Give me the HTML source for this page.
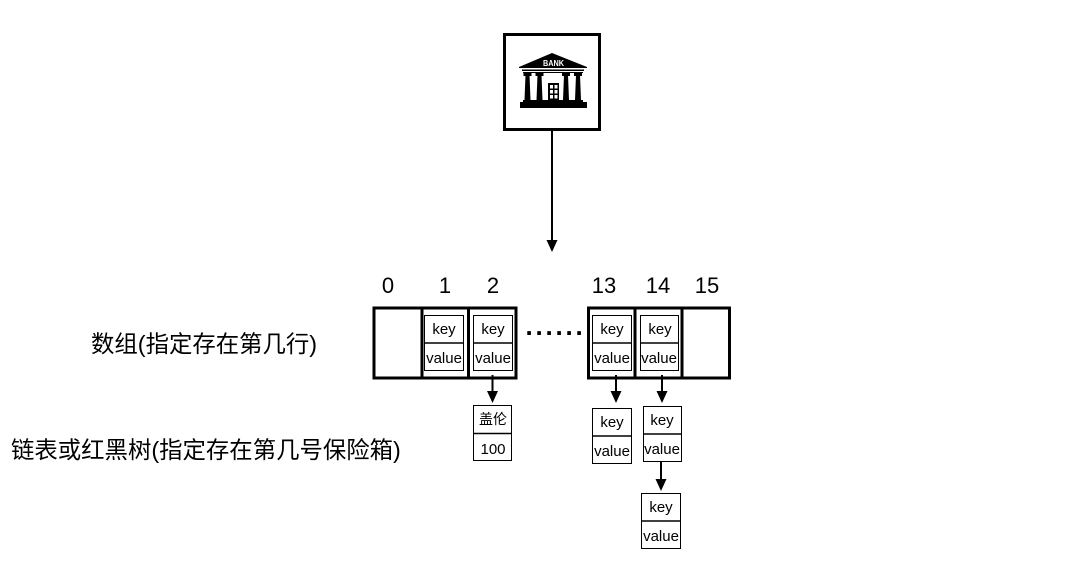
<!DOCTYPE html>
<html>
<head>
<meta charset="utf-8">
<style>
html,body{margin:0;padding:0;background:#fff;width:1074px;height:568px;overflow:hidden}
svg{display:block}
text{font-family:"Liberation Sans","Noto Sans CJK SC",sans-serif;fill:#000;text-anchor:middle}
.k{font-size:15px}
.n{font-size:22px}
.l{font-size:23.4px;text-anchor:start}
</style>
</head>
<body>
<svg width="1074" height="568" viewBox="0 0 1074 568" xmlns="http://www.w3.org/2000/svg">
<rect x="0" y="0" width="1074" height="568" fill="#fff"/>

<!-- bank box -->
<rect x="504.5" y="34.5" width="95" height="95" fill="#fff" stroke="#000" stroke-width="3"/>
<!-- bank icon -->
<g fill="#000">
<polygon points="552,53 587,67 587,68 519,68 519,67"/>
<rect x="522" y="69.500" width="62" height="1.500"/>
<rect x="523" y="72" width="60" height="1"/>
<rect x="523.500" y="73" width="8" height="3"/>
<rect x="535.500" y="73" width="8" height="3"/>
<rect x="562" y="73" width="8" height="3"/>
<rect x="574" y="73" width="8" height="3"/>
<polygon points="525.500,75 529.500,75 530.500,100 524.500,100"/>
<polygon points="537.500,75 541.500,75 542.500,100 536.500,100"/>
<polygon points="564,75 568,75 569,100 563,100"/>
<polygon points="576,75 580,75 581,100 575,100"/>
<rect x="523" y="100" width="60" height="3"/>
<rect x="520" y="102" width="67" height="6"/>
<rect x="548" y="83" width="11" height="18"/>
</g>
<g fill="#fff">
<rect x="550" y="85" width="3" height="3.500"/>
<rect x="554.500" y="85" width="3" height="3.500"/>
<rect x="550" y="90" width="3" height="3.500"/>
<rect x="554.500" y="90" width="3" height="3.500"/>
<rect x="550" y="95" width="3" height="3.500"/>
<rect x="554.500" y="95" width="3" height="3.500"/>
</g>
<text x="553.500" y="66" textLength="21" lengthAdjust="spacingAndGlyphs" style="font-size:8px;font-weight:bold;fill:#fff">BANK</text>

<!-- top arrow -->
<line x1="552" y1="131" x2="552" y2="241" stroke="#000" stroke-width="2"/>
<polygon points="546.500,240 557.500,240 552,252" fill="#000"/>

<!-- index labels -->
<text class="n" x="388" y="293">0</text>
<text class="n" x="445" y="293">1</text>
<text class="n" x="493" y="293">2</text>
<text class="n" x="604" y="293">13</text>
<text class="n" x="658" y="293">14</text>
<text class="n" x="707" y="293">15</text>

<!-- array left -->
<rect x="374" y="308" width="142" height="70" fill="#fff" stroke="#000" stroke-width="3"/>
<line x1="422" y1="308" x2="422" y2="378" stroke="#000" stroke-width="3"/>
<line x1="468.500" y1="308" x2="468.500" y2="378" stroke="#000" stroke-width="3"/>

<!-- array right -->
<rect x="588.500" y="308" width="141" height="70" fill="#fff" stroke="#000" stroke-width="3"/>
<line x1="635" y1="308" x2="635" y2="378" stroke="#000" stroke-width="3"/>
<line x1="682" y1="308" x2="682" y2="378" stroke="#000" stroke-width="3"/>

<!-- dots -->
<text x="525.500" y="335" style="font-size:26px;font-weight:bold;letter-spacing:2.770px;text-anchor:start">......</text>

<!-- cell 1 -->
<rect x="424.500" y="315.500" width="39" height="55" fill="#fff" stroke="#000" stroke-width="1"/>
<line x1="424.500" y1="343" x2="463.500" y2="343" stroke="#000" stroke-width="1.500"/>
<text class="k" x="444" y="334">key</text>
<text class="k" x="444" y="363">value</text>

<!-- cell 2 -->
<rect x="473.500" y="315.500" width="39" height="55" fill="#fff" stroke="#000" stroke-width="1"/>
<line x1="473.500" y1="343" x2="512.500" y2="343" stroke="#000" stroke-width="1.500"/>
<text class="k" x="493" y="334">key</text>
<text class="k" x="493" y="363">value</text>

<!-- cell 13 -->
<rect x="592.500" y="315.500" width="39" height="55" fill="#fff" stroke="#000" stroke-width="1"/>
<line x1="592.500" y1="343" x2="631.500" y2="343" stroke="#000" stroke-width="1.500"/>
<text class="k" x="612" y="334">key</text>
<text class="k" x="612" y="363">value</text>

<!-- cell 14 -->
<rect x="640.500" y="315.500" width="38" height="55" fill="#fff" stroke="#000" stroke-width="1"/>
<line x1="640.500" y1="343" x2="678.500" y2="343" stroke="#000" stroke-width="1.500"/>
<text class="k" x="660" y="334">key</text>
<text class="k" x="659" y="363">value</text>

<!-- arrows from cells -->
<line x1="492.500" y1="375" x2="492.500" y2="392" stroke="#000" stroke-width="2"/>
<polygon points="487,391 498,391 492.500,403" fill="#000"/>
<line x1="616" y1="375" x2="616" y2="392" stroke="#000" stroke-width="2"/>
<polygon points="610.500,391 621.500,391 616,403" fill="#000"/>
<line x1="662" y1="375" x2="662" y2="392" stroke="#000" stroke-width="2"/>
<polygon points="656.500,391 667.500,391 662,403" fill="#000"/>

<!-- list node gailun -->
<rect x="473.500" y="405.500" width="38" height="55" fill="#fff" stroke="#000" stroke-width="1"/>
<line x1="473.500" y1="433.500" x2="511.500" y2="433.500" stroke="#000" stroke-width="1.500"/>
<text x="493" y="424" style="font-size:14px">盖伦</text>
<text class="k" x="493" y="454">100</text>

<!-- list node 13 -->
<rect x="592.500" y="408.500" width="39" height="55" fill="#fff" stroke="#000" stroke-width="1"/>
<line x1="592.500" y1="436" x2="631.500" y2="436" stroke="#000" stroke-width="1.500"/>
<text class="k" x="612" y="427">key</text>
<text class="k" x="612" y="456">value</text>

<!-- list node 14 -->
<rect x="643.500" y="406.500" width="38" height="55" fill="#fff" stroke="#000" stroke-width="1"/>
<line x1="643.500" y1="434" x2="681.500" y2="434" stroke="#000" stroke-width="1.500"/>
<text class="k" x="662" y="425">key</text>
<text class="k" x="662" y="454">value</text>

<!-- arrow 14 chain -->
<line x1="661" y1="461" x2="661" y2="480" stroke="#000" stroke-width="2"/>
<polygon points="655.500,479 666.500,479 661,491" fill="#000"/>

<!-- list node 14b -->
<rect x="641.500" y="493.500" width="39" height="55" fill="#fff" stroke="#000" stroke-width="1"/>
<line x1="641.500" y1="521" x2="680.500" y2="521" stroke="#000" stroke-width="1.500"/>
<text class="k" x="661" y="512">key</text>
<text class="k" x="661" y="541">value</text>

<!-- left labels -->
<text class="l" x="91" y="352">数组(指定存在第几行)</text>
<text class="l" x="11" y="458">链表或红黑树(指定存在第几号保险箱)</text>
</svg>
</body>
</html>
